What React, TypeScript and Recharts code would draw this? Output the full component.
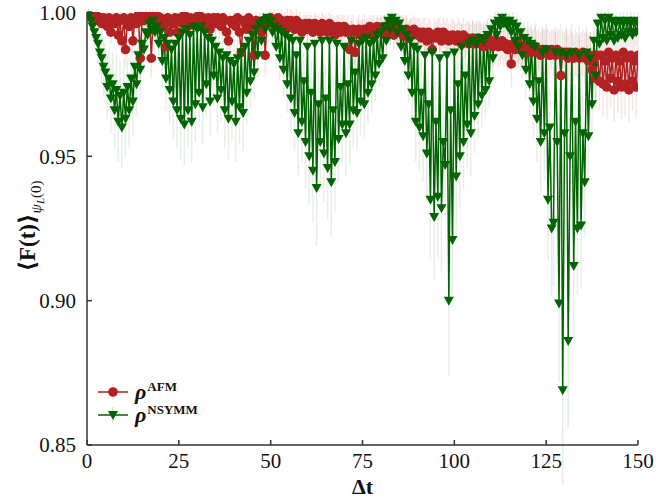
import { LineChart, Line, XAxis, YAxis, ErrorBar } from 'recharts';

// time grid (Δt), one value every 0.5
const T = [
  0, 0.5, 1, 1.5, 2, 2.5, 3, 3.5, 4, 4.5, 5, 5.5, 6, 6.5, 7, 7.5, 8, 8.5, 9, 9.5,
  10, 10.5, 11, 11.5, 12, 12.5, 13, 13.5, 14, 14.5, 15, 15.5, 16, 16.5, 17, 17.5, 18, 18.5, 19, 19.5,
  20, 20.5, 21, 21.5, 22, 22.5, 23, 23.5, 24, 24.5, 25, 25.5, 26, 26.5, 27, 27.5, 28, 28.5, 29, 29.5,
  30, 30.5, 31, 31.5, 32, 32.5, 33, 33.5, 34, 34.5, 35, 35.5, 36, 36.5, 37, 37.5, 38, 38.5, 39, 39.5,
  40, 40.5, 41, 41.5, 42, 42.5, 43, 43.5, 44, 44.5, 45, 45.5, 46, 46.5, 47, 47.5, 48, 48.5, 49, 49.5,
  50, 50.5, 51, 51.5, 52, 52.5, 53, 53.5, 54, 54.5, 55, 55.5, 56, 56.5, 57, 57.5, 58, 58.5, 59, 59.5,
  60, 60.5, 61, 61.5, 62, 62.5, 63, 63.5, 64, 64.5, 65, 65.5, 66, 66.5, 67, 67.5, 68, 68.5, 69, 69.5,
  70, 70.5, 71, 71.5, 72, 72.5, 73, 73.5, 74, 74.5, 75, 75.5, 76, 76.5, 77, 77.5, 78, 78.5, 79, 79.5,
  80, 80.5, 81, 81.5, 82, 82.5, 83, 83.5, 84, 84.5, 85, 85.5, 86, 86.5, 87, 87.5, 88, 88.5, 89, 89.5,
  90, 90.5, 91, 91.5, 92, 92.5, 93, 93.5, 94, 94.5, 95, 95.5, 96, 96.5, 97, 97.5, 98, 98.5, 99, 99.5,
  100, 100.5, 101, 101.5, 102, 102.5, 103, 103.5, 104, 104.5, 105, 105.5, 106, 106.5, 107, 107.5, 108, 108.5, 109, 109.5,
  110, 110.5, 111, 111.5, 112, 112.5, 113, 113.5, 114, 114.5, 115, 115.5, 116, 116.5, 117, 117.5, 118, 118.5, 119, 119.5,
  120, 120.5, 121, 121.5, 122, 122.5, 123, 123.5, 124, 124.5, 125, 125.5, 126, 126.5, 127, 127.5, 128, 128.5, 129, 129.5,
  130, 130.5, 131, 131.5, 132, 132.5, 133, 133.5, 134, 134.5, 135, 135.5, 136, 136.5, 137, 137.5, 138, 138.5, 139, 139.5,
  140, 140.5, 141, 141.5, 142, 142.5, 143, 143.5, 144, 144.5, 145, 145.5, 146, 146.5, 147, 147.5, 148, 148.5, 149, 149.5,
  150,
];

// rho^AFM
const AFM = [
  1.000, 1.000, 0.999, 0.999, 0.998, 0.999, 0.997, 0.998, 0.996, 0.998,
  0.997, 0.995, 0.998, 0.993, 0.997, 0.996, 0.998, 0.992, 0.997, 0.990,
  0.998, 0.987, 0.997, 0.995, 0.998, 0.990, 0.997, 0.996, 0.999, 0.984,
  0.998, 0.997, 0.999, 0.998, 0.999, 0.984, 0.998, 0.997, 0.999, 0.996,
  0.998, 0.995, 0.997, 0.988, 0.998, 0.993, 0.997, 0.996, 0.998, 0.993,
  0.997, 0.998, 0.996, 0.999, 0.997, 0.995, 0.998, 0.997, 0.996, 0.998,
  0.997, 0.999, 0.995, 0.998, 0.997, 0.996, 0.998, 0.994, 0.997, 0.998,
  0.996, 0.998, 0.997, 0.995, 0.998, 0.997, 0.993, 0.990, 0.997, 0.996,
  0.997, 0.995, 0.998, 0.993, 0.986, 0.997, 0.996, 0.994, 0.998, 0.995,
  0.996, 0.985, 0.997, 0.995, 0.996, 0.993, 0.997, 0.985, 0.996, 0.997,
  0.998, 0.996, 0.997, 0.995, 0.998, 0.996, 0.997, 0.994, 0.996, 0.997,
  0.995, 0.997, 0.996, 0.994, 0.997, 0.995, 0.996, 0.993, 0.995, 0.996,
  0.994, 0.996, 0.995, 0.993, 0.996, 0.994, 0.995, 0.993, 0.996, 0.994,
  0.995, 0.993, 0.996, 0.994, 0.995, 0.992, 0.994, 0.995, 0.993, 0.994,
  0.995, 0.993, 0.994, 0.987, 0.993, 0.994, 0.986, 0.993, 0.994, 0.992,
  0.993, 0.994, 0.992, 0.993, 0.995, 0.993, 0.994, 0.992, 0.995, 0.993,
  0.994, 0.993, 0.995, 0.992, 0.994, 0.993, 0.995, 0.992, 0.994, 0.993,
  0.993, 0.994, 0.992, 0.993, 0.994, 0.991, 0.993, 0.992, 0.994, 0.993,
  0.992, 0.993, 0.991, 0.993, 0.992, 0.990, 0.993, 0.991, 0.987, 0.992,
  0.991, 0.993, 0.992, 0.990, 0.993, 0.991, 0.992, 0.990, 0.991, 0.992,
  0.991, 0.990, 0.992, 0.991, 0.989, 0.992, 0.990, 0.991, 0.989, 0.990,
  0.991, 0.989, 0.990, 0.991, 0.989, 0.990, 0.988, 0.990, 0.991, 0.989,
  0.990, 0.988, 0.989, 0.990, 0.988, 0.989, 0.990, 0.988, 0.989, 0.987,
  0.988, 0.982, 0.989, 0.987, 0.988, 0.989, 0.987, 0.988, 0.986, 0.988,
  0.987, 0.988, 0.986, 0.987, 0.988, 0.986, 0.987, 0.985, 0.987, 0.986,
  0.987, 0.986, 0.985, 0.987, 0.986, 0.985, 0.987, 0.986, 0.978, 0.986,
  0.985, 0.986, 0.984, 0.986, 0.985, 0.984, 0.986, 0.985, 0.984, 0.985,
  0.986, 0.984, 0.985, 0.983, 0.985, 0.980, 0.984, 0.977, 0.985, 0.976,
  0.985, 0.975, 0.983, 0.974, 0.986, 0.977, 0.984, 0.973, 0.985, 0.976,
  0.983, 0.974, 0.986, 0.975, 0.984, 0.973, 0.985, 0.976, 0.983, 0.974,
  0.985,
];

const AFM_ERR = [
  0.000, 0.001, 0.001, 0.002, 0.002, 0.002, 0.003, 0.002, 0.003, 0.002,
  0.003, 0.003, 0.002, 0.004, 0.003, 0.003, 0.002, 0.004, 0.003, 0.005,
  0.002, 0.006, 0.003, 0.003, 0.002, 0.005, 0.003, 0.003, 0.002, 0.007,
  0.002, 0.003, 0.002, 0.002, 0.002, 0.007, 0.002, 0.003, 0.002, 0.003,
  0.002, 0.003, 0.003, 0.006, 0.002, 0.004, 0.003, 0.003, 0.002, 0.004,
  0.003, 0.002, 0.003, 0.002, 0.003, 0.003, 0.002, 0.003, 0.003, 0.002,
  0.003, 0.002, 0.003, 0.002, 0.003, 0.003, 0.002, 0.004, 0.003, 0.002,
  0.003, 0.002, 0.003, 0.003, 0.002, 0.003, 0.004, 0.005, 0.003, 0.003,
  0.003, 0.003, 0.002, 0.004, 0.006, 0.003, 0.003, 0.004, 0.002, 0.003,
  0.003, 0.007, 0.003, 0.003, 0.003, 0.004, 0.003, 0.007, 0.003, 0.003,
  0.003, 0.004, 0.004, 0.004, 0.003, 0.004, 0.004, 0.005, 0.004, 0.004,
  0.004, 0.004, 0.004, 0.005, 0.004, 0.004, 0.004, 0.005, 0.004, 0.004,
  0.005, 0.004, 0.004, 0.005, 0.004, 0.005, 0.004, 0.005, 0.004, 0.005,
  0.004, 0.005, 0.004, 0.005, 0.004, 0.005, 0.005, 0.004, 0.005, 0.005,
  0.004, 0.005, 0.005, 0.007, 0.005, 0.005, 0.007, 0.005, 0.005, 0.005,
  0.005, 0.005, 0.005, 0.005, 0.004, 0.005, 0.005, 0.005, 0.004, 0.005,
  0.005, 0.005, 0.004, 0.005, 0.005, 0.005, 0.004, 0.005, 0.005, 0.005,
  0.005, 0.005, 0.006, 0.005, 0.005, 0.006, 0.005, 0.006, 0.005, 0.005,
  0.006, 0.005, 0.006, 0.005, 0.006, 0.006, 0.005, 0.006, 0.007, 0.006,
  0.006, 0.005, 0.006, 0.006, 0.005, 0.006, 0.006, 0.006, 0.006, 0.006,
  0.006, 0.006, 0.006, 0.006, 0.007, 0.006, 0.006, 0.006, 0.007, 0.006,
  0.006, 0.007, 0.006, 0.006, 0.007, 0.006, 0.007, 0.006, 0.006, 0.007,
  0.006, 0.007, 0.007, 0.006, 0.007, 0.007, 0.006, 0.007, 0.007, 0.007,
  0.007, 0.008, 0.007, 0.007, 0.007, 0.007, 0.007, 0.007, 0.008, 0.007,
  0.007, 0.007, 0.008, 0.007, 0.007, 0.008, 0.007, 0.008, 0.007, 0.008,
  0.007, 0.008, 0.008, 0.007, 0.008, 0.008, 0.007, 0.008, 0.010, 0.008,
  0.008, 0.008, 0.008, 0.008, 0.008, 0.008, 0.008, 0.008, 0.008, 0.008,
  0.008, 0.009, 0.008, 0.009, 0.008, 0.009, 0.009, 0.010, 0.009, 0.010,
  0.009, 0.011, 0.009, 0.011, 0.009, 0.010, 0.009, 0.011, 0.009, 0.011,
  0.009, 0.011, 0.009, 0.011, 0.009, 0.011, 0.009, 0.010, 0.009, 0.011,
  0.009,
];

// rho^NSYMM
const NSYMM = [
  1.000, 0.999, 0.997, 0.995, 0.993, 0.991, 0.989, 0.986, 0.984, 0.981,
  0.979, 0.974, 0.977, 0.970, 0.975, 0.966, 0.973, 0.962, 0.971, 0.960,
  0.972, 0.963, 0.974, 0.966, 0.977, 0.969, 0.981, 0.975, 0.985, 0.980,
  0.989, 0.987, 0.993, 0.992, 0.996, 0.994, 0.997, 0.993, 0.995, 0.989,
  0.993, 0.983, 0.991, 0.977, 0.989, 0.973, 0.987, 0.969, 0.989, 0.966,
  0.991, 0.963, 0.993, 0.961, 0.994, 0.966, 0.992, 0.962, 0.995, 0.968,
  0.994, 0.972, 0.995, 0.967, 0.993, 0.975, 0.991, 0.969, 0.990, 0.978,
  0.988, 0.970, 0.986, 0.973, 0.984, 0.966, 0.985, 0.963, 0.983, 0.969,
  0.982, 0.962, 0.984, 0.967, 0.986, 0.965, 0.988, 0.972, 0.990, 0.976,
  0.992, 0.979, 0.994, 0.985, 0.996, 0.990, 0.997, 0.994, 0.998, 0.996,
  0.997, 0.993, 0.995, 0.988, 0.994, 0.984, 0.993, 0.980, 0.992, 0.975,
  0.991, 0.970, 0.990, 0.965, 0.985, 0.958, 0.990, 0.962, 0.976, 0.955,
  0.988, 0.950, 0.972, 0.945, 0.989, 0.939, 0.968, 0.955, 0.990, 0.951,
  0.970, 0.946, 0.990, 0.941, 0.966, 0.948, 0.989, 0.956, 0.974, 0.961,
  0.988, 0.958, 0.975, 0.961, 0.990, 0.966, 0.979, 0.965, 0.989, 0.969,
  0.990, 0.968, 0.991, 0.972, 0.989, 0.975, 0.990, 0.978, 0.992, 0.982,
  0.993, 0.984, 0.995, 0.990, 0.997, 0.994, 0.998, 0.996, 0.997, 0.993,
  0.996, 0.988, 0.994, 0.983, 0.992, 0.978, 0.990, 0.972, 0.988, 0.962,
  0.987, 0.960, 0.972, 0.957, 0.985, 0.951, 0.968, 0.935, 0.986, 0.929,
  0.962, 0.936, 0.984, 0.932, 0.955, 0.947, 0.985, 0.900, 0.966, 0.921,
  0.986, 0.943, 0.975, 0.950, 0.988, 0.955, 0.978, 0.961, 0.989, 0.958,
  0.990, 0.964, 0.989, 0.968, 0.991, 0.971, 0.990, 0.973, 0.992, 0.976,
  0.994, 0.984, 0.996, 0.992, 0.997, 0.995, 0.998, 0.996, 0.997, 0.995,
  0.997, 0.993, 0.996, 0.990, 0.995, 0.988, 0.993, 0.985, 0.991, 0.980,
  0.990, 0.975, 0.989, 0.969, 0.988, 0.963, 0.976, 0.955, 0.986, 0.958,
  0.987, 0.935, 0.960, 0.925, 0.927, 0.986, 0.955, 0.899, 0.986, 0.869,
  0.958, 0.985, 0.886, 0.950, 0.986, 0.912, 0.962, 0.925, 0.985, 0.926,
  0.958, 0.941, 0.986, 0.957, 0.984, 0.968, 0.990, 0.978, 0.996, 0.989,
  0.998, 0.991, 0.997, 0.990, 0.998, 0.992, 0.997, 0.990, 0.996, 0.991,
  0.997, 0.992, 0.996, 0.991, 0.997, 0.993, 0.996, 0.992, 0.997, 0.993,
  0.996,
];

const NSYMM_ERR = [
  0.000, 0.002, 0.003, 0.004, 0.005, 0.006, 0.007, 0.008, 0.009, 0.010,
  0.010, 0.011, 0.011, 0.012, 0.011, 0.013, 0.012, 0.014, 0.012, 0.014,
  0.012, 0.013, 0.012, 0.013, 0.011, 0.012, 0.010, 0.011, 0.008, 0.010,
  0.007, 0.008, 0.005, 0.006, 0.004, 0.005, 0.004, 0.006, 0.005, 0.007,
  0.006, 0.009, 0.007, 0.011, 0.008, 0.012, 0.008, 0.013, 0.008, 0.013,
  0.007, 0.014, 0.006, 0.014, 0.006, 0.013, 0.007, 0.014, 0.005, 0.013,
  0.006, 0.012, 0.005, 0.013, 0.006, 0.011, 0.007, 0.012, 0.007, 0.010,
  0.008, 0.012, 0.009, 0.011, 0.009, 0.013, 0.009, 0.014, 0.010, 0.013,
  0.010, 0.014, 0.009, 0.013, 0.009, 0.013, 0.008, 0.011, 0.007, 0.010,
  0.006, 0.009, 0.005, 0.008, 0.004, 0.006, 0.003, 0.005, 0.003, 0.004,
  0.003, 0.005, 0.004, 0.007, 0.005, 0.008, 0.005, 0.009, 0.006, 0.010,
  0.006, 0.012, 0.007, 0.013, 0.008, 0.015, 0.007, 0.014, 0.010, 0.016,
  0.008, 0.017, 0.011, 0.018, 0.008, 0.020, 0.012, 0.016, 0.007, 0.017,
  0.011, 0.018, 0.007, 0.019, 0.012, 0.017, 0.008, 0.015, 0.010, 0.014,
  0.008, 0.015, 0.010, 0.014, 0.007, 0.013, 0.009, 0.013, 0.008, 0.012,
  0.007, 0.012, 0.007, 0.011, 0.008, 0.010, 0.007, 0.009, 0.006, 0.008,
  0.005, 0.007, 0.004, 0.006, 0.003, 0.004, 0.002, 0.003, 0.003, 0.004,
  0.004, 0.006, 0.005, 0.008, 0.006, 0.009, 0.007, 0.011, 0.008, 0.014,
  0.008, 0.015, 0.011, 0.016, 0.009, 0.017, 0.012, 0.021, 0.008, 0.022,
  0.014, 0.021, 0.009, 0.022, 0.015, 0.018, 0.009, 0.026, 0.013, 0.023,
  0.009, 0.019, 0.011, 0.018, 0.008, 0.016, 0.010, 0.015, 0.008, 0.015,
  0.007, 0.013, 0.008, 0.012, 0.006, 0.011, 0.007, 0.010, 0.006, 0.009,
  0.005, 0.007, 0.004, 0.005, 0.003, 0.004, 0.002, 0.003, 0.003, 0.004,
  0.003, 0.005, 0.004, 0.006, 0.004, 0.007, 0.005, 0.008, 0.006, 0.010,
  0.007, 0.011, 0.007, 0.013, 0.008, 0.015, 0.011, 0.017, 0.009, 0.016,
  0.009, 0.021, 0.014, 0.023, 0.022, 0.009, 0.015, 0.027, 0.010, 0.033,
  0.015, 0.010, 0.030, 0.016, 0.010, 0.026, 0.013, 0.023, 0.010, 0.022,
  0.014, 0.019, 0.009, 0.015, 0.009, 0.012, 0.007, 0.009, 0.004, 0.006,
  0.003, 0.006, 0.003, 0.007, 0.003, 0.006, 0.003, 0.007, 0.004, 0.006,
  0.003, 0.006, 0.004, 0.006, 0.003, 0.005, 0.004, 0.006, 0.003, 0.005,
  0.004,
];

const X_TICKS = [0, 25, 50, 75, 100, 125, 150];
const Y_TICKS = [0.85, 0.9, 0.95, 1.0];

const RED = '#b22222';
const GREEN = '#006400';
const AXIS = '#333333';
const SERIF = '"Liberation Serif", "DejaVu Serif", serif';

const data = T.map((t, i) => ({
  t,
  afm: AFM[i],
  afmErr: AFM_ERR[i],
  nsymm: NSYMM[i],
  nsymmErr: NSYMM_ERR[i],
}));

const RedDot = (p: any) => {
  if (p.cx == null || p.cy == null) return <g key={`a-${p.index}`} />;
  return <circle key={`a-${p.index}`} cx={p.cx} cy={p.cy} r={4.8} fill={RED} />;
};

const triPath = (cx: number, cy: number) =>
  `M${cx - 5},${cy - 4} L${cx + 5},${cy - 4} L${cx},${cy + 5} Z`;

const GreenDot = (p: any) => {
  if (p.cx == null || p.cy == null) return <g key={`n-${p.index}`} />;
  return <path key={`n-${p.index}`} d={triPath(p.cx, p.cy)} fill={GREEN} />;
};

const tickStyle = { fontFamily: SERIF, fontSize: 21, fill: '#111' };

function LegendOverlay() {
  const rows = [
    { color: RED, sup: 'AFM', marker: 'circle' },
    { color: GREEN, sup: 'NSYMM', marker: 'tri' },
  ];
  return (
    <div style={{ position: 'absolute', left: 96, top: 380 }}>
      {rows.map((r) => (
        <div key={r.sup} style={{ display: 'flex', alignItems: 'center', height: 23, lineHeight: '23px' }}>
          <svg width={34} height={20}>
            <line x1={17} y1={2} x2={17} y2={18} stroke={r.color} strokeOpacity={0.15} strokeWidth={1.5} />
            <line x1={2} y1={10} x2={32} y2={10} stroke={r.color} strokeWidth={1.5} />
            {r.marker === 'circle' ? (
              <circle cx={17} cy={10} r={4.8} fill={r.color} />
            ) : (
              <path d={triPath(17, 10)} fill={r.color} />
            )}
          </svg>
          <span style={{ fontFamily: SERIF, fontSize: 22, fontWeight: 700, fontStyle: 'italic', marginLeft: 5, color: '#111' }}>
            ρ
          </span>
          <span
            style={{
              fontFamily: SERIF,
              fontSize: 13,
              fontWeight: 700,
              color: '#111',
              position: 'relative',
              top: -5,
              marginLeft: 1,
            }}
          >
            {r.sup}
          </span>
        </div>
      ))}
    </div>
  );
}

export default function App() {
  return (
    <div style={{ position: 'absolute', left: 0, top: 0, width: 656, height: 498, background: '#fff' }}>
      <LineChart width={656} height={498} data={data} margin={{ top: 12, right: 18, left: 0, bottom: 0 }}>
        <XAxis
          dataKey="t"
          type="number"
          domain={[0, 150]}
          ticks={X_TICKS}
          allowDataOverflow
          height={53}
          tickSize={-5}
          tickMargin={13}
          tick={tickStyle}
          stroke={AXIS}
          strokeWidth={1.5}
          label={{ value: 'Δt', position: 'insideBottom', offset: 4, style: { fontFamily: SERIF, fontSize: 22, fontWeight: 700, fill: '#111' } }}
        />
        <XAxis
          xAxisId="top"
          orientation="top"
          type="number"
          domain={[0, 150]}
          ticks={X_TICKS}
          height={0}
          tickSize={-5}
          tick={false}
          stroke={AXIS}
          strokeWidth={1.5}
        />
        <YAxis
          type="number"
          domain={[0.85, 1.0]}
          ticks={Y_TICKS}
          allowDataOverflow
          width={87}
          tickSize={-5}
          tickMargin={16}
          tick={tickStyle}
          tickFormatter={(v: number) => v.toFixed(2)}
          stroke={AXIS}
          strokeWidth={1.5}
        />
        <YAxis
          yAxisId="right"
          orientation="right"
          type="number"
          domain={[0.85, 1.0]}
          ticks={Y_TICKS}
          width={0}
          tickSize={-5}
          tick={false}
          stroke={AXIS}
          strokeWidth={1.5}
        />
        <Line
          dataKey="afm"
          stroke={RED}
          strokeWidth={1.5}
          dot={RedDot}
          activeDot={false}
          isAnimationActive={false}
        >
          <ErrorBar dataKey="afmErr" width={0} stroke="rgba(178,34,34,0.12)" strokeWidth={1.5} direction="y" />
        </Line>
        <Line
          dataKey="nsymm"
          stroke={GREEN}
          strokeWidth={1.5}
          dot={GreenDot}
          activeDot={false}
          isAnimationActive={false}
        >
          <ErrorBar dataKey="nsymmErr" width={0} stroke="rgba(0,100,0,0.10)" strokeWidth={1.5} direction="y" />
        </Line>
      </LineChart>
      <div
        style={{
          position: 'absolute',
          left: 27,
          top: 226,
          transform: 'translate(-50%, -50%) rotate(-90deg)',
          whiteSpace: 'nowrap',
          fontFamily: SERIF,
          fontSize: 23,
          fontWeight: 700,
          color: '#111',
        }}
      >
        ⟨F(t)⟩
        <span style={{ fontSize: 15, fontWeight: 400, fontStyle: 'italic', position: 'relative', top: 6 }}>
          ψ<span style={{ fontSize: 11, position: 'relative', top: 3 }}>L</span>
          <span style={{ fontStyle: 'normal' }}>(0)</span>
        </span>
      </div>
      <LegendOverlay />
    </div>
  );
}
